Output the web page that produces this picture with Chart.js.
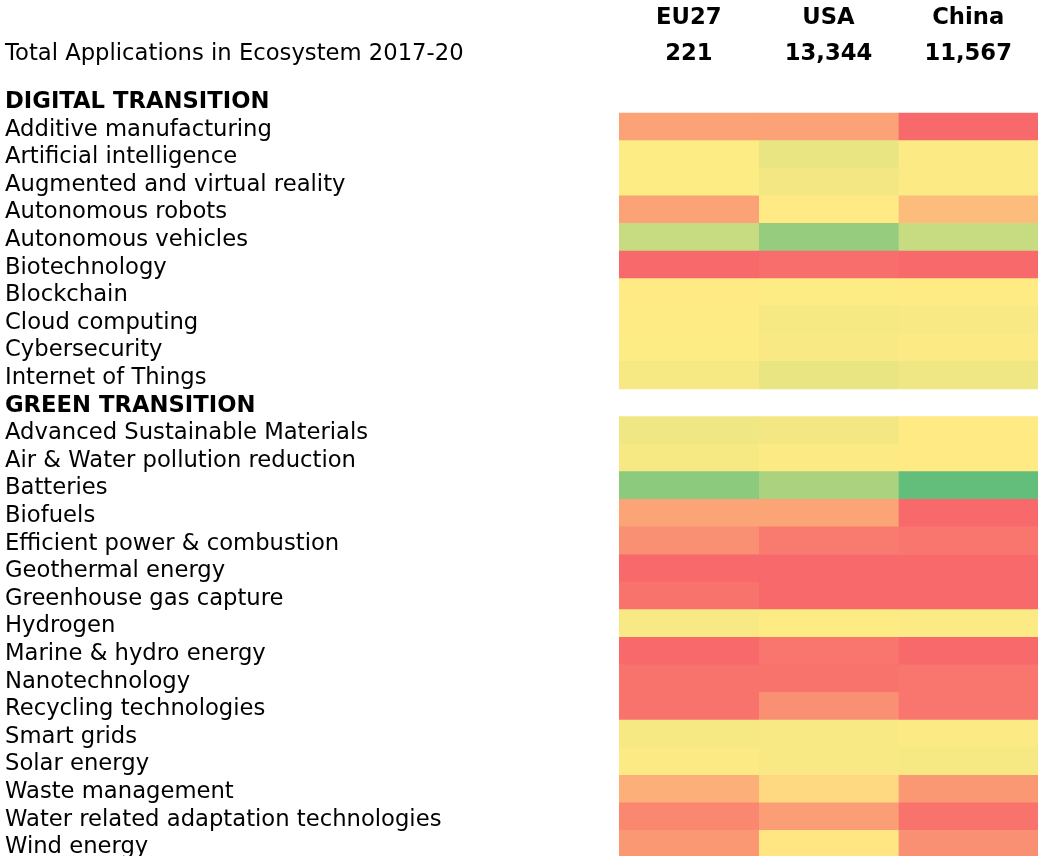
<!DOCTYPE html>
<html>
<head>
<meta charset="utf-8">
<script src="https://cdn.jsdelivr.net/npm/chart.js@4/dist/chart.umd.min.js"></script>
<style>
  html, body { margin: 0; padding: 0; background: #fff; overflow: hidden; }
  #wrap { width: 1038px; height: 858px; }
</style>
</head>
<body>
<div id="wrap"><canvas id="heat" width="1038" height="858"></canvas></div>
<script>
// ── Data ────────────────────────────────────────────────────────────────
const countries = ['EU27', 'USA', 'China'];
const totals = ['221', '13,344', '11,567'];
const totalLabel = 'Total Applications in Ecosystem 2017-20';
const sectionHeaders = ['DIGITAL TRANSITION', 'GREEN TRANSITION'];

const rows = [
    'DIGITAL TRANSITION',
    'Additive manufacturing',
    'Artificial intelligence',
    'Augmented and virtual reality',
    'Autonomous robots',
    'Autonomous vehicles',
    'Biotechnology',
    'Blockchain',
    'Cloud computing',
    'Cybersecurity',
    'Internet of Things',
    'GREEN TRANSITION',
    'Advanced Sustainable Materials',
    'Air & Water pollution reduction',
    'Batteries',
    'Biofuels',
    'Efficient power & combustion',
    'Geothermal energy',
    'Greenhouse gas capture',
    'Hydrogen',
    'Marine & hydro energy',
    'Nanotechnology',
    'Recycling technologies',
    'Smart grids',
    'Solar energy',
    'Waste management',
    'Water related adaptation technologies',
    'Wind energy'
];

// relative score per technology (0 = lowest / red, 50 = mid / yellow, 100 = highest / green)
const eu27Scores = [null, 22, 50.5, 50.5, 22, 68, 0, 49.5, 50, 50.5, 53,
    null, 55, 53, 87, 23, 15, 0, 4, 52, 0, 4, 4, 53, 51, 27, 12, 18];
const usaScores = [null, 22, 57, 54, 49.5, 84, 2, 50.5, 53, 52, 57,
    null, 54, 51, 77, 23, 7, 0, 0, 50, 5, 4, 15, 52, 52, 43, 20, 48];
const chinaScores = [null, 0, 51, 51, 32, 68, 0, 50, 52, 51, 55,
    null, 49.5, 49.5, 100, 0, 5, 0, 0, 51, 0, 5, 5, 51, 53, 18, 4, 15];

// ── Colour scale (red → yellow → green) ────────────────────────────────
const RED = [248, 105, 107];
const YELLOW = [255, 235, 132];
const GREEN = [99, 190, 123];

function scoreColor(v) {
    const mix = (a, b, t) => a.map((c, i) => Math.round(c + (b[i] - c) * t));
    const rgb = v <= 50 ? mix(RED, YELLOW, v / 50) : mix(YELLOW, GREEN, (v - 50) / 50);
    return `rgb(${rgb.join(',')})`;
}

const FONT = 'DejaVu Sans, Verdana, sans-serif';
const FONT_SIZE = 22.7;

function makeDataset(name, k, scores) {
    return {
        label: name,
        data: scores.map(v => v == null ? null : [k, k + 1]),
        backgroundColor: ctx => scoreColor(scores[ctx.dataIndex] ?? 50),
        borderWidth: 0,
        barPercentage: 1,
        categoryPercentage: 1
    };
}

// ── Totals row drawn above the grid ────────────────────────────────────
const totalsRow = {
    id: 'totalsRow',
    afterDraw(chart) {
        const { ctx, scales: { x } } = chart;
        const y = 54;
        ctx.save();
        ctx.fillStyle = '#000';
        ctx.textBaseline = 'middle';
        ctx.textAlign = 'left';
        ctx.font = `normal ${FONT_SIZE}px ${FONT}`;
        ctx.fillText(totalLabel, 5, y);
        ctx.textAlign = 'center';
        ctx.font = `bold ${FONT_SIZE}px ${FONT}`;
        totals.forEach((t, k) => ctx.fillText(t, x.getPixelForValue(k + 0.5), y));
        ctx.restore();
    }
};

new Chart(document.getElementById('heat'), {
    type: 'bar',
    data: {
        labels: rows,
        datasets: [
            makeDataset('EU27', 0, eu27Scores),
            makeDataset('USA', 1, usaScores),
            makeDataset('China', 2, chinaScores)
        ]
    },
    options: {
        indexAxis: 'y',
        responsive: false,
        animation: false,
        devicePixelRatio: 1,
        layout: { padding: { left: 5, right: 0, top: 0, bottom: 0 } },
        plugins: {
            legend: { display: false },
            tooltip: { enabled: false }
        },
        scales: {
            x: {
                type: 'linear',
                position: 'top',
                min: 0,
                max: 3,
                grid: { display: false, drawTicks: false },
                border: { display: false },
                afterBuildTicks: s => { s.ticks = countries.map((c, k) => ({ value: k + 0.5 })); },
                afterFit: s => {
                    s.height = 85.4;
                    s.paddingLeft = 0;
                    s.paddingRight = 0;
                },
                ticks: {
                    autoSkip: false,
                    maxRotation: 0,
                    padding: 54,
                    color: '#000',
                    font: { family: FONT, size: FONT_SIZE, weight: 'bold' },
                    callback: v => countries[Math.round(v - 0.5)]
                }
            },
            y: {
                grid: { display: false, drawTicks: false },
                border: { display: false },
                afterFit: s => {
                    s.width = 614;
                    s.paddingTop = 0;
                    s.paddingBottom = 0;
                },
                ticks: {
                    autoSkip: false,
                    crossAlign: 'far',
                    padding: 0,
                    labelOffset: 3,
                    color: '#000',
                    font: ctx => ({
                        family: FONT,
                        size: FONT_SIZE,
                        weight: sectionHeaders.includes(rows[ctx.index]) ? 'bold' : 'normal'
                    })
                }
            }
        },
        datasets: { bar: { grouped: false } }
    },
    plugins: [totalsRow]
});
</script>
</body>
</html>
